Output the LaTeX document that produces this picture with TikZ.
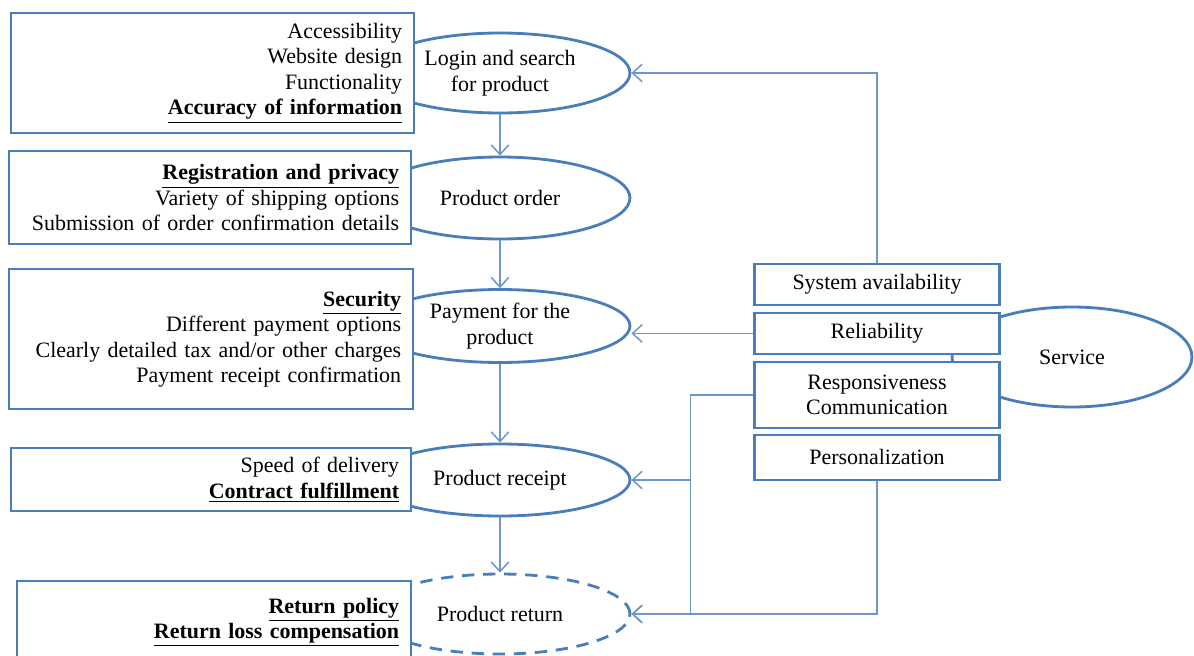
\documentclass[tikz,border=0pt]{standalone}
\usepackage{fontspec}
\setmainfont{Liberation Serif}
\usetikzlibrary{positioning,shapes.geometric,arrows.meta}

\definecolor{framec}{RGB}{74,126,187}
\definecolor{linkc}{RGB}{110,150,205}

\tikzset{
  stage/.style={ellipse, draw=framec, line width=1.6pt, fill=white, inner sep=0pt,
    align=center, minimum width=5.2cm, minimum height=1.6cm},
  critbox/.style={draw=framec, line width=1.4pt, fill=white, align=right,
    inner xsep=0.24cm, inner ysep=0pt, anchor=north west},
  svcbox/.style={draw=framec, line width=1.4pt, fill=white, align=center,
    minimum width=4.9cm, inner sep=0pt},
  link/.style={draw=linkc, line width=0.85pt, -{Straight Barb[length=5.5pt,width=10pt]}},
  plain/.style={draw=linkc, line width=0.85pt},
}

\begin{document}
\begin{tikzpicture}[x=0.02cm, y=-0.02cm, font=\fontsize{12.5}{14.5}\selectfont]
  \useasboundingbox (0,0) rectangle (1194,656);
  \clip (0,0) rectangle (1194,656);

  % purchase stages first, the boxes cover their left ends
  \node[stage] (login) at (500,73) {Login and search\\for product};
  \node[stage, minimum height=1.64cm] (order) at (500,198) {Product order};
  \node[stage, minimum height=1.46cm] (pay) at (500,326) {Payment for the\\product};
  \node[stage, minimum height=1.44cm] (receipt) at (500,480) {Product receipt};
  \node[stage, dash pattern=on 7pt off 5pt] (return) at (500,614) {Product return};

  % quality criteria of each stage
  \node[critbox, text width=7.58cm, minimum height=2.4cm] (webq) at (10,12)
    {Accessibility\\Website design\\Functionality\\\underline{\textbf{Accuracy of information}}};
  \node[critbox, text width=7.56cm, minimum height=1.86cm] (orderq) at (8,150)
    {\underline{\textbf{Registration and privacy}}\\Variety of shipping options\\Submission of order confirmation details};
  \node[critbox, text width=7.60cm, minimum height=2.8cm] (payq) at (8,268)
    {\underline{\textbf{Security}}\\Different payment options\\Clearly detailed tax and/or other charges\\Payment receipt confirmation};
  \node[critbox, text width=7.52cm, minimum height=1.26cm] (receiptq) at (10,447)
    {Speed of delivery\\\underline{\textbf{Contract fulfillment}}};
  \node[critbox, text width=7.40cm, minimum height=1.64cm] (returnq) at (16,580)
    {\underline{\textbf{Return policy}}\\\underline{\textbf{Return loss compensation}}};

  % service side
  \node[stage, minimum width=4.8cm, minimum height=2cm] (service) at (1072,357) {Service};
  \node[svcbox, minimum height=0.82cm] (avail) at (877,284.5) {System availability};
  \node[svcbox, minimum height=0.82cm, below=0.11cm of avail] (reliab) {Reliability};
  \node[svcbox, minimum height=1.32cm, below=0.11cm of reliab] (respons) {Responsiveness\\Communication};
  \node[svcbox, minimum height=0.9cm, below=0.09cm of respons] (person) {Personalization};

  % flow of the stages
  \draw[link] (login.south) -- (order.north);
  \draw[link] (order.south) -- (pay.north);
  \draw[link] (pay.south) -- (receipt.north);
  \draw[link] (receipt.south) -- (return.north);

  % service dimensions feeding the stages
  \draw[link] (avail.north) |- (login.east);
  \draw[link] (reliab.west) -- (reliab.west -| pay.east);
  \coordinate[left=1.26cm of respons.west] (split);
  \draw[plain] (respons.west) -- (split);
  \draw[link] (split) |- (return.east);
  \draw[link] (split |- receipt.east) -- (receipt.east);
  \draw[link] (person.south) |- (return.east);
\end{tikzpicture}
\end{document}
